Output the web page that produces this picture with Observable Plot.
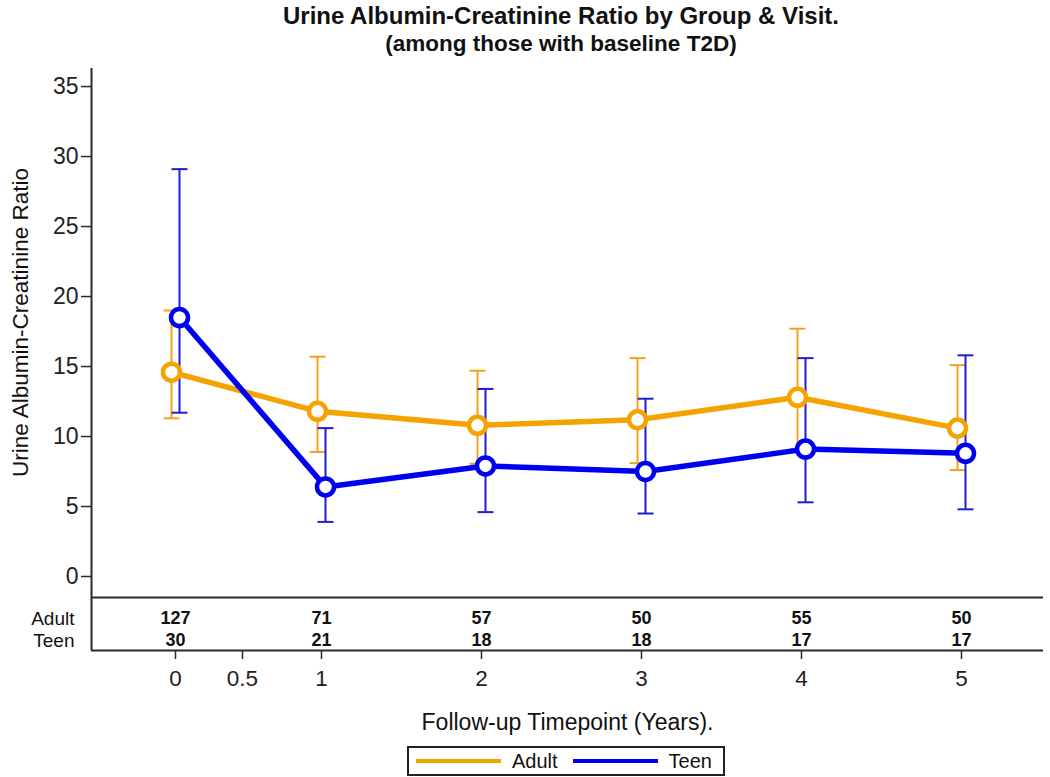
<!DOCTYPE html>
<html>
<head>
<meta charset="utf-8">
<script src="https://cdn.jsdelivr.net/npm/d3@7"></script>
<script src="https://cdn.jsdelivr.net/npm/@observablehq/plot@0.6"></script>
<style>
  html, body { margin: 0; padding: 0; background: #fff; }
  body { width: 1050px; height: 777px; position: relative; overflow: hidden; font-family: "Liberation Sans", Arial, sans-serif; color: #111; }
  #title { position: absolute; left: 91px; width: 940px; top: 2px; text-align: center; font-weight: bold; font-size: 24px; line-height: 27px; color: #111; }
  #title .sub { font-size: 22.5px; }
  #chart { position: absolute; left: 0; top: 58px; }
  #legend { position: absolute; left: 407px; top: 746px; width: 314px; height: 26px; border: 2px solid #222; display: flex; align-items: center; font-size: 20px; color: #111; }
  .sw { display: inline-block; width: 85px; height: 4px; }
</style>
</head>
<body>
<div id="title">Urine Albumin-Creatinine Ratio by Group &amp; Visit.<br><span class="sub">(among those with baseline T2D)</span></div>
<div id="chart"></div>
<div id="legend">
  <span class="sw" style="background:#F5A300;margin-left:7px"></span><span style="margin-left:11px">Adult</span>
  <span class="sw" style="background:#0000F0;margin-left:15px"></span><span style="margin-left:11px">Teen</span>
</div>
<script>
// ---- data ----
const groups = ["Adult", "Teen"];
const times = [0, 1, 2, 3, 4, 5];
const adultMean  = [14.6, 11.8, 10.8, 11.2, 12.8, 10.6];
const adultLower = [11.3, 8.9, 8.05, 8.1, 9.1, 7.6];
const adultUpper = [19.0, 15.7, 14.7, 15.6, 17.7, 15.1];
const teenMean   = [18.5, 6.4, 7.9, 7.5, 9.1, 8.8];
const teenLower  = [11.7, 3.9, 4.6, 4.5, 5.3, 4.8];
const teenUpper  = [29.1, 10.6, 13.4, 12.7, 15.6, 15.8];
const adultN = [127, 71, 57, 50, 55, 50];
const teenN  = [30, 21, 18, 18, 17, 17];
const xTicks = [0, 0.5, 1, 2, 3, 4, 5];
const yTicks = [0, 5, 10, 15, 20, 25, 30, 35];
const yLabel = "Urine Albumin-Creatinine Ratio";
const xLabel = "Follow-up Timepoint (Years).";

// ---- build tables ----
const adult = times.map((t, i) => ({t, m: adultMean[i], lo: adultLower[i], hi: adultUpper[i], n: adultN[i]}));
const teen  = times.map((t, i) => ({t, m: teenMean[i],  lo: teenLower[i],  hi: teenUpper[i],  n: teenN[i]}));

const orange = "#F5A300", orangeBar = "#EFA41C";
const blue = "#0000F0", blueBar = "#1E1ED2";
const axisColor = "#2a2a2a";
const tableFont = "'Liberation Sans Narrow', 'Arial Narrow', 'Liberation Sans', sans-serif";

const xLo = -0.63, xHi = 5.51;
const yLo = -5.286, yHi = 36.29, tableTop = -1.5;
const yMid = (yTicks[0] + yHi) / 2;

const cap = { draw(ctx, size) { const w = Math.sqrt(size / Math.PI); ctx.moveTo(-w, 0); ctx.lineTo(w, 0); } };

function series(data, dx, barColor) {
  return [
    Plot.ruleX(data, {x: "t", y1: "lo", y2: "hi", dx, stroke: barColor, strokeWidth: 2}),
    Plot.dot(data, {x: "t", y: "lo", dx, symbol: cap, r: 8, fill: "none", stroke: barColor, strokeWidth: 2}),
    Plot.dot(data, {x: "t", y: "hi", dx, symbol: cap, r: 8, fill: "none", stroke: barColor, strokeWidth: 2})
  ];
}

const chart = Plot.plot({
  width: 1050,
  height: 682,
  marginTop: 10,
  marginBottom: 90,
  marginLeft: 91,
  marginRight: 7,
  style: {fontFamily: "'Liberation Sans', Arial, sans-serif", color: "#222", background: "white", overflow: "visible"},
  x: {type: "linear", domain: [xLo, 0, 0.5, 1, 5, xHi], range: [91, 175, 242, 321, 961, 1043]},
  y: {domain: [yLo, yHi]},
  marks: [
    Plot.axisY(yTicks, {tickSize: 10, tickPadding: 3, fontSize: 23, label: null, stroke: axisColor, strokeWidth: 1.5}),
    Plot.axisX(xTicks, {tickSize: 9, tickPadding: 11, fontSize: 22.5, label: null, stroke: axisColor, strokeWidth: 1.5, tickFormat: d => String(d)}),
    Plot.ruleX([xLo], {stroke: axisColor, strokeWidth: 2}),
    Plot.ruleY([yLo], {stroke: axisColor, strokeWidth: 2}),
    Plot.ruleY([tableTop], {stroke: axisColor, strokeWidth: 2}),
    ...series(adult, -4, orangeBar),
    ...series(teen, 4, blueBar),
    Plot.line(adult, {x: "t", y: "m", dx: -4, stroke: orange, strokeWidth: 5.5}),
    Plot.line(teen, {x: "t", y: "m", dx: 4, stroke: blue, strokeWidth: 5.5}),
    Plot.dot(adult, {x: "t", y: "m", dx: -4, r: 8.5, fill: "white", stroke: orange, strokeWidth: 4.5}),
    Plot.dot(teen, {x: "t", y: "m", dx: 4, r: 8.5, fill: "white", stroke: blue, strokeWidth: 4.5}),
    // at-risk table
    Plot.text(adult, {x: "t", text: "n", frameAnchor: "bottom", lineAnchor: "middle", dy: -32, fontWeight: "bold", fontSize: 18, fontFamily: tableFont, fill: "#111"}),
    Plot.text(teen, {x: "t", text: "n", frameAnchor: "bottom", lineAnchor: "middle", dy: -10, fontWeight: "bold", fontSize: 18, fontFamily: tableFont, fill: "#111"}),
    Plot.text([groups[0]], {frameAnchor: "bottom-left", lineAnchor: "middle", dx: -17, dy: -32, textAnchor: "end", fontSize: 19, fill: "#111"}),
    Plot.text([groups[1]], {frameAnchor: "bottom-left", lineAnchor: "middle", dx: -17, dy: -10, textAnchor: "end", fontSize: 19, fill: "#111"}),
    // axis titles
    Plot.text([yLabel], {x: () => xLo, y: () => yMid, dx: -71, rotate: -90, fontSize: 22.5, fill: "#111"}),
    Plot.text([xLabel], {frameAnchor: "bottom", lineAnchor: "middle", dy: 72, fontSize: 23, fill: "#111"})
  ]
});
document.getElementById("chart").appendChild(chart);
</script>
</body>
</html>
